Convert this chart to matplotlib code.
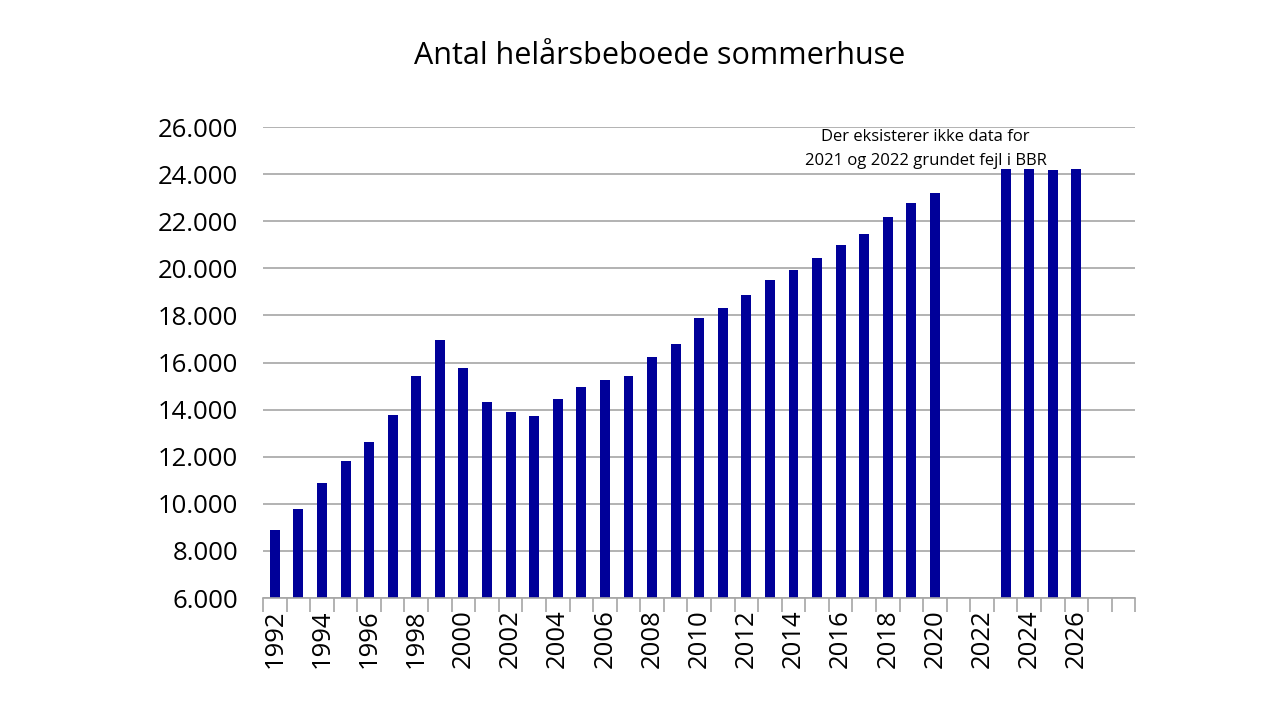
import matplotlib
matplotlib.use("Agg")
import matplotlib.pyplot as plt
import numpy as np

years = list(range(1992, 2029))
values = [8890, 9770, 10880, 11830, 12620, 13770, 15440, 16940, 15750, 14320,
          13890, 13730, 14440, 14950, 15270, 15440, 16250, 16770, 17880, 18310,
          18870, 19500, 19940, 20440, 20980, 21460, 22190, 22760, 23210,
          None, None, 24230, 24200, 24170, 24230, None, None]
yticks = list(range(6000, 26001, 2000))
title = "Antal helårsbeboede sommerhuse"
note = "Der eksisterer ikke data for\n2021 og 2022 grundet fejl i BBR"

fig = plt.figure(figsize=(12.8, 7.2), dpi=100)
ax = fig.add_axes([0.2055, 0.1694, 0.887 - 0.2055, 0.8236 - 0.1694])

x = np.arange(len(years))
vals = [np.nan if v is None else v for v in values]
ax.bar(x, vals, width=0.42, color="#000099", bottom=0, zorder=3)

ax.set_xlim(-0.5, len(years) - 0.5)
ax.set_ylim(6000, 26000)
ax.set_yticks(yticks)
ax.set_yticklabels([f"{v:,}".replace(",", ".") for v in yticks],
                   fontsize=18.5, family="Open Sans")
ax.tick_params(axis="y", length=0, pad=18)
ax.yaxis.grid(True, color="#A6A6A6", linewidth=1.2, zorder=0)

# boundaries ticks
ax.set_xticks(np.arange(-0.5, len(years)), minor=False)
ax.set_xticklabels([])
ax.tick_params(axis="x", which="major", length=10, color="#A6A6A6", width=1.2)
lab_idx = [i for i, y in enumerate(years) if y % 2 == 0 and y <= 2026]
ax.set_xticks(lab_idx, minor=True)
ax.set_xticklabels([str(years[i]) for i in lab_idx], minor=True,
                   rotation=90, fontsize=18.5, family="Open Sans")
ax.tick_params(axis="x", which="minor", length=0, pad=8)

for s in ["top", "right", "left"]:
    ax.spines[s].set_visible(False)
ax.spines["bottom"].set_color("#A6A6A6")
ax.spines["bottom"].set_linewidth(1.2)
ax.spines["bottom"].set_zorder(4)

fig.text(0.515, 0.922, title, ha="center", va="center", fontsize=22,
         family="Open Sans")
ax.text(27.6, 25050, note, ha="center", va="center", fontsize=12,
        family="Open Sans", linespacing=1.65, zorder=5)

fig.savefig("out.png", dpi=100, facecolor="white")
